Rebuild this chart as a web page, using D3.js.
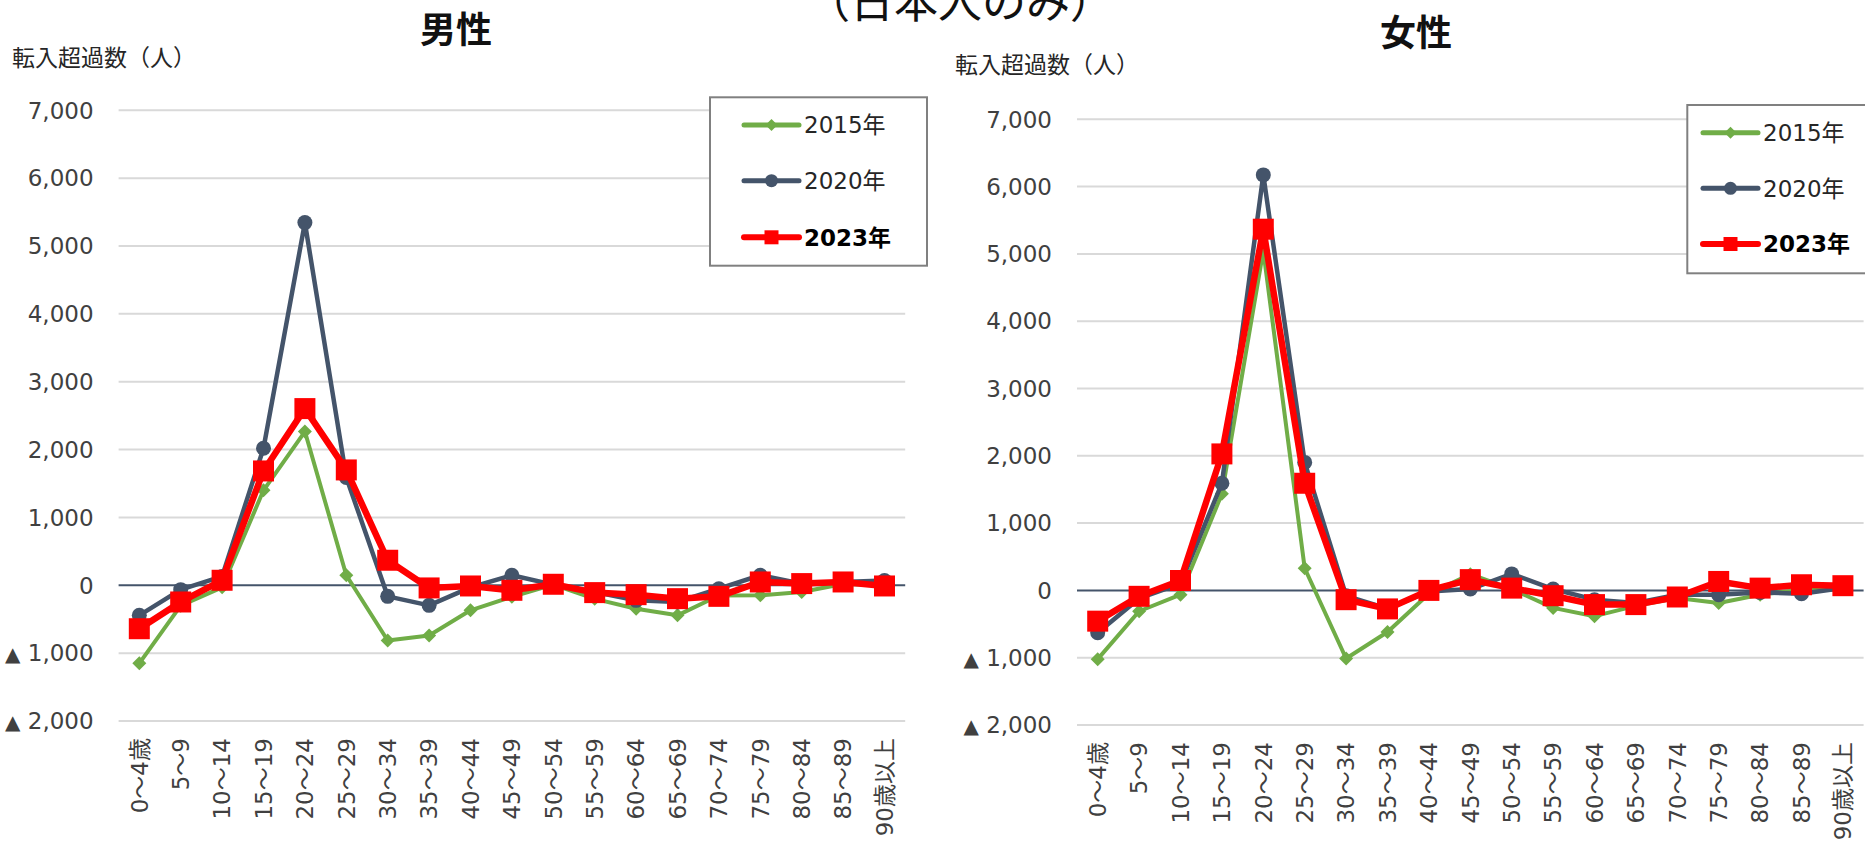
<!DOCTYPE html>
<html>
<head>
<meta charset="utf-8">
<script src="https://cdn.jsdelivr.net/npm/d3@7"></script>
<style>
  html, body { margin: 0; padding: 0; background: #ffffff; }
  svg { display: block; }
</style>
</head>
<body>
<svg id="chart" width="1865" height="848"></svg>
<script>
// ---------------- data ----------------
const ageGroups = ["0～4歳","5～9","10～14","15～19","20～24","25～29","30～34","35～39","40～44","45～49",
                   "50～54","55～59","60～64","65～69","70～74","75～79","80～84","85～89","90歳以上"];
const seriesNames = ["2015年","2020年","2023年"];
const yTicks = [-2000,-1000,0,1000,2000,3000,4000,5000,6000,7000];

const male2015 = [-1150,-300,-30,1400,2266,148,-813,-739,-369,-170,10,-200,-345,-443,-150,-148,-100,20,10];
const male2020 = [-443,-64,130,2020,5345,1590,-163,-296,-30,148,10,-100,-222,-246,-50,148,25,50,70];
const male2023 = [-640,-246,74,1685,2604,1700,369,-39,-10,-74,15,-108,-138,-197,-163,49,25,49,-10];

const female2015 = [-1022,-310,-64,1435,5050,329,-1012,-619,-50,240,20,-260,-383,-230,-113,-187,-64,10,20];
const female2020 = [-629,-120,100,1592,6174,1902,-80,-270,-15,20,245,20,-138,-187,-64,-64,-30,-50,35];
const female2023 = [-457,-88,147,2028,5367,1592,-138,-275,0,160,34,-79,-211,-211,-98,133,34,84,70];

// ---------------- styles ----------------
const colors = ["#70AD47", "#44546A", "#FF0000"];
const lineWidths = [4, 4.5, 6.5];
const tickFont = "'DejaVu Sans', 'Noto Sans CJK JP', sans-serif";
const cjkFont = "'Noto Sans CJK JP', 'DejaVu Sans', sans-serif";

const svg = d3.select("#chart");
svg.append("rect").attr("width", 1865).attr("height", 848).attr("fill", "#fff");

const fmt = d3.format(",");
function tickLabel(sel, v) {
  if (v < 0) {
    sel.append("tspan").attr("font-size", "20px").text("▲");
    sel.append("tspan").text(" " + fmt(-v));
  } else {
    sel.text(fmt(v));
  }
}

function markerPath(i, s) {
  if (i === 0) return `M0,${-s}L${s},0L0,${s}L${-s},0Z`;
  if (i === 1) return d3.symbol(d3.symbolCircle, Math.PI * s * s)();
  return `M${-s},${-s}H${s}V${s}H${-s}Z`;
}

const panels = [
  { title: "男性", titleX: 456, titleY: 43, labelX: 12, labelY: 66,
    x0: 118.6, x1: 905.2, yTop: 110.3, yBot: 721, xLabelY: 738,
    data: [male2015, male2020, male2023],
    legend: { x: 710, y: 97.3, w: 217, h: 168.4, rows: [125, 180.7, 237.3], lx0: 744, lx1: 799, tx: 804 } },
  { title: "女性", titleX: 1416, titleY: 46, labelX: 955, labelY: 73,
    x0: 1077, x1: 1863.6, yTop: 119.3, yBot: 725, xLabelY: 742,
    data: [female2015, female2020, female2023],
    legend: { x: 1687.3, y: 105, w: 217, h: 168.3, rows: [132.7, 188.3, 244], lx0: 1703, lx1: 1758, tx: 1763 } }
];

// top subtitle (partially cut off at the top edge, as in the source)
svg.append("text")
  .attr("x", 960).attr("y", 18)
  .attr("text-anchor", "middle")
  .attr("font-family", cjkFont)
  .attr("font-size", "44px")
  .attr("fill", "#111")
  .text("（日本人のみ）");

panels.forEach(p => {
  const g = svg.append("g");
  const x = d3.scalePoint().domain(ageGroups).range([p.x0, p.x1]).padding(0.5);
  const y = d3.scaleLinear().domain([-2000, 7000]).range([p.yBot, p.yTop]);

  // title
  g.append("text").attr("x", p.titleX).attr("y", p.titleY)
    .attr("text-anchor", "middle").attr("font-family", cjkFont)
    .attr("font-weight", "bold").attr("font-size", "36px").attr("fill", "#111")
    .text(p.title);
  // axis label
  g.append("text").attr("x", p.labelX).attr("y", p.labelY)
    .attr("font-family", cjkFont).attr("font-size", "23px").attr("fill", "#262626")
    .text("転入超過数（人）");

  // gridlines
  g.append("g").selectAll("line").data(yTicks.filter(v => v !== 0)).join("line")
    .attr("x1", p.x0).attr("x2", p.x1)
    .attr("y1", d => y(d)).attr("y2", d => y(d))
    .attr("stroke", "#D9D9D9").attr("stroke-width", 2);

  // y tick labels
  g.append("g").selectAll("text").data(yTicks).join("text")
    .attr("x", p.x0 - 25).attr("y", d => y(d)).attr("dy", "0.36em")
    .attr("text-anchor", "end").attr("font-family", tickFont)
    .attr("font-size", "23px").attr("fill", "#404040")
    .each(function(d) { tickLabel(d3.select(this), d); });

  // zero line
  g.append("line").attr("x1", p.x0).attr("x2", p.x1)
    .attr("y1", y(0)).attr("y2", y(0))
    .attr("stroke", "#44546A").attr("stroke-width", 2);

  // x labels (rotated)
  g.append("g").selectAll("text").data(ageGroups).join("text")
    .attr("transform", d => `translate(${x(d)},${p.xLabelY}) rotate(-90)`)
    .attr("text-anchor", "end").attr("dy", "0.36em")
    .attr("font-family", tickFont).attr("font-size", "23px").attr("fill", "#404040")
    .text(d => d);

  // series
  const line = d3.line().x((d, i) => x(ageGroups[i])).y(d => y(d));
  const markerSizes = [7, 7.5, 10.5];
  p.data.forEach((vals, si) => {
    const sg = g.append("g");
    sg.append("path").datum(vals).attr("d", line)
      .attr("fill", "none").attr("stroke", colors[si])
      .attr("stroke-width", lineWidths[si]).attr("stroke-linejoin", "round");
    sg.selectAll("path.m").data(vals).join("path").attr("class", "m")
      .attr("transform", (d, i) => `translate(${x(ageGroups[i])},${y(d)})`)
      .attr("d", markerPath(si, markerSizes[si]))
      .attr("fill", colors[si]);
  });

  // legend
  const L = p.legend;
  const lg = g.append("g");
  lg.append("rect").attr("x", L.x).attr("y", L.y).attr("width", L.w).attr("height", L.h)
    .attr("fill", "#fff").attr("stroke", "#808080").attr("stroke-width", 2);
  const legSizes = [6, 6.5, 7];
  seriesNames.forEach((name, si) => {
    const cy = L.rows[si];
    lg.append("line").attr("x1", L.lx0).attr("x2", L.lx1).attr("y1", cy).attr("y2", cy)
      .attr("stroke", colors[si]).attr("stroke-width", si === 2 ? 6 : 5)
      .attr("stroke-linecap", "round");
    lg.append("path").attr("transform", `translate(${(L.lx0 + L.lx1) / 2},${cy})`)
      .attr("d", markerPath(si, legSizes[si])).attr("fill", colors[si]);
    lg.append("text").attr("x", L.tx).attr("y", cy).attr("dy", "0.36em")
      .attr("font-family", tickFont).attr("font-size", "23px")
      .attr("font-weight", si === 2 ? "bold" : "normal")
      .attr("fill", si === 2 ? "#000" : "#262626")
      .text(name);
  });
});
</script>
</body>
</html>
